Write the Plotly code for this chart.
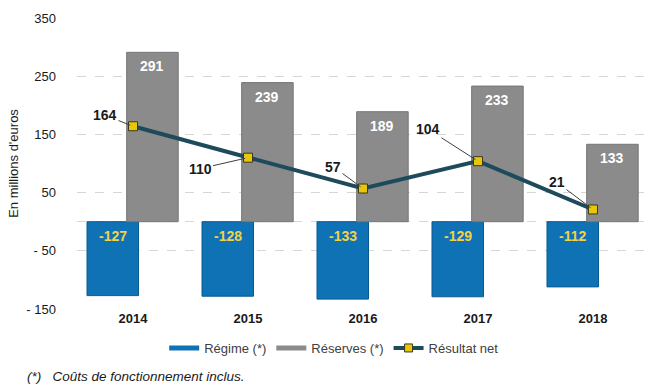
import plotly.graph_objects as go

years = ["2014", "2015", "2016", "2017", "2018"]
regime = [-127, -128, -133, -129, -112]
reserves = [291, 239, 189, 233, 133]
resultat = [164, 110, 57, 104, 21]

y_tickvals = [350, 250, 150, 50, -50, -150]
y_ticktext = ["350", "250", "150", "50", "- 50", "- 150"]

# label offsets (pixels) for Résultat net leader-line labels
label_ax = [-28, -48, -30, -50, -36]
label_ay = [-11, 11, -22, -32, -27]

BLUE = "#0F72B5"
GRAY = "#8B8B8B"
LINE = "#1D4B5C"
YEL = "#E8C60A"
FONT = "Liberation Sans, Arial, sans-serif"

fig = go.Figure()

fig.add_trace(go.Bar(
    x=years, y=regime, width=0.448, offset=-0.40,
    marker=dict(color=BLUE, line=dict(color="#0B5A8F", width=1)),
    showlegend=False, hoverinfo="skip"))
fig.add_trace(go.Bar(
    x=years, y=reserves, width=0.448, offset=-0.055,
    marker=dict(color=GRAY, line=dict(color="#767676", width=1)),
    showlegend=False, hoverinfo="skip"))
fig.add_trace(go.Scatter(
    x=years, y=resultat, mode="lines+markers",
    line=dict(color=LINE, width=4),
    marker=dict(symbol="square", size=9, color=YEL, line=dict(color="#3a3a1a", width=1)),
    showlegend=False, hoverinfo="skip"))

# legend proxies
fig.add_trace(go.Scatter(x=[None], y=[None], mode="lines", name="Régime (*)",
                         line=dict(color=BLUE, width=5)))
fig.add_trace(go.Scatter(x=[None], y=[None], mode="lines", name="Réserves (*)",
                         line=dict(color=GRAY, width=5)))
fig.add_trace(go.Scatter(x=[None], y=[None], mode="lines+markers", name="Résultat net",
                         line=dict(color=LINE, width=4),
                         marker=dict(symbol="square", size=8, color=YEL,
                                     line=dict(color="#3a3a1a", width=1))))

annotations = []
for i, yr in enumerate(years):
    annotations.append(dict(
        x=i, y=reserves[i], text=str(reserves[i]), showarrow=False,
        xshift=(-0.055 + 0.448 / 2) * 115, yshift=-14,
        font=dict(family=FONT, size=14, color="white", weight="bold")))
    annotations.append(dict(
        x=i, y=0, text=str(regime[i]), showarrow=False,
        xshift=(-0.40 + 0.448 / 2) * 115, yshift=-14,
        font=dict(family=FONT, size=14, color="#F2D24A", weight="bold")))
    annotations.append(dict(
        x=i, y=resultat[i], text=str(resultat[i]), showarrow=True,
        ax=label_ax[i], ay=label_ay[i], arrowhead=0, arrowwidth=1,
        arrowcolor="#404040", standoff=3,
        font=dict(family=FONT, size=14, color="#1a1a1a", weight="bold")))

annotations.append(dict(
    xref="paper", yref="paper", x=-0.091, y=-0.232, xanchor="left", yanchor="middle",
    text="<i>(*)&nbsp;&nbsp;&nbsp;Coûts de fonctionnement inclus.</i>", showarrow=False,
    font=dict(family=FONT, size=13.5, color="#1a1a1a")))

fig.update_layout(
    width=646, height=386,
    margin=dict(l=77, r=0, t=18, b=77),
    paper_bgcolor="white", plot_bgcolor="white",
    barmode="overlay",
    font=dict(family=FONT, size=13, color="#1a1a1a"),
    annotations=annotations,
    legend=dict(orientation="h", x=0.452, xanchor="center", y=-0.134, yanchor="middle",
                font=dict(family=FONT, size=13, color="#404040"),
                itemwidth=30, tracegroupgap=0),
    xaxis=dict(type="category", range=[-0.487, 4.461], showgrid=False, showline=False,
               ticks="", tickfont=dict(family=FONT, size=13, color="#1a1a1a", weight="bold")),
    yaxis=dict(range=[-150, 350], tickmode="array", tickvals=y_tickvals, ticktext=y_ticktext,
               showgrid=False, zeroline=False, showline=False, ticks="",
               ticklabelstandoff=20,
               tickfont=dict(family=FONT, size=13, color="#1a1a1a"),
               title=dict(text="En millions d'euros", standoff=4,
                          font=dict(family=FONT, size=13, color="#1a1a1a")),
               minor=dict(tickmode="array", tickvals=[-50, 0, 50, 150, 250], showgrid=True,
                          griddash="dash", gridcolor="#D6D6D6", gridwidth=1, ticks="")),
)

fig.write_html("out.html", config={"displayModeBar": False},
               post_script="document.body.style.margin='0';")
